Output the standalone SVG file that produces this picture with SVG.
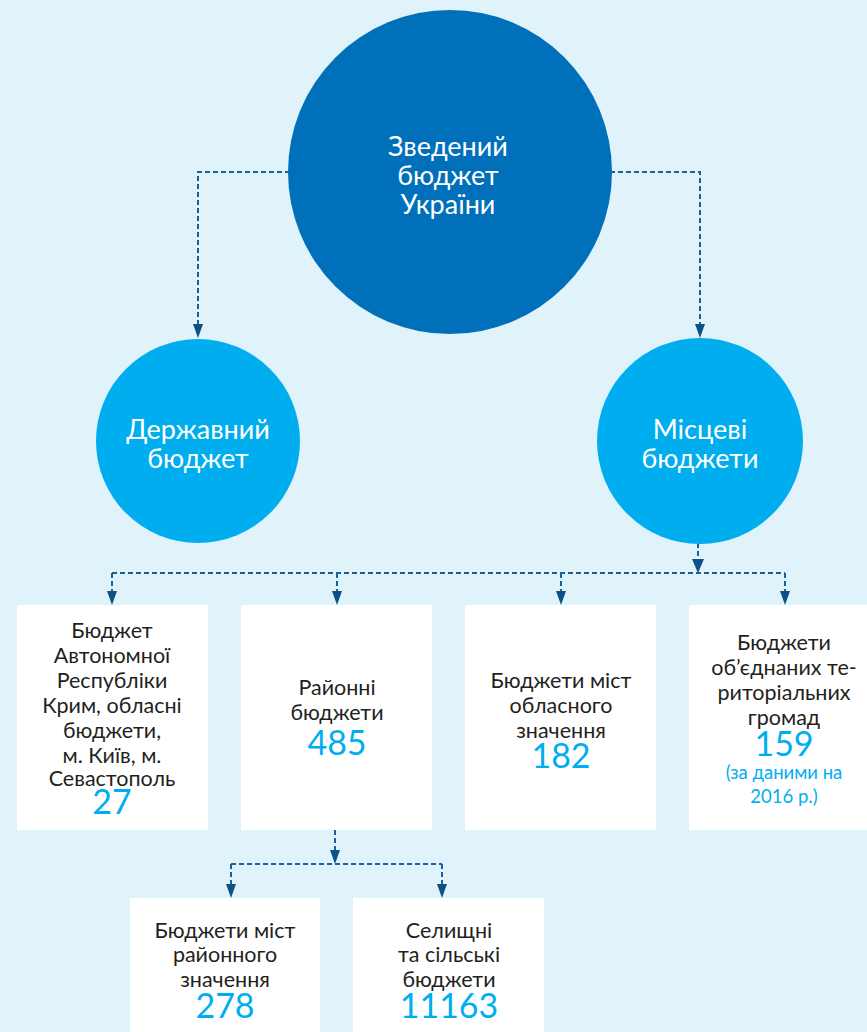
<svg xmlns="http://www.w3.org/2000/svg" width="867" height="1032" viewBox="0 0 867 1032">
<defs>
<style>
.c{fill:none;stroke:#1a6199;stroke-width:2;stroke-dasharray:5 3}
.ah{fill:#0b5288}
.ct{font-family:Lato,"Noto Sans",sans-serif;font-size:27px;fill:#ffffff;text-anchor:middle}
.bt{font-family:Lato,"Noto Sans",sans-serif;font-size:21.5px;fill:#231f20;text-anchor:middle}
.n{font-family:Lato,"Noto Sans",sans-serif;font-size:34px;fill:#00aeef;text-anchor:middle}
.s{font-family:Lato,"Noto Sans",sans-serif;font-size:18.5px;fill:#00aeef;text-anchor:middle}
.box{fill:#ffffff}
</style>
</defs>
<rect x="0" y="0" width="867" height="1032" fill="#e0f3fb"/>
<g id="connectors">
<path class="c" d="M290,172 H198 V324"/>
<path class="c" d="M610,172 H700 V324"/>
<path class="c" d="M698,543 V559"/>
<path class="ah" d="M692,559 L704,559 L698,573 Z"/>
<path class="c" d="M112,573 H785"/>
<path class="c" d="M112,573 V591"/>
<path class="c" d="M337,573 V591"/>
<path class="c" d="M561,573 V591"/>
<path class="c" d="M785,573 V591"/>
<path class="ah" d="M107,591 L117,591 L112,605 Z"/>
<path class="ah" d="M332,591 L342,591 L337,605 Z"/>
<path class="ah" d="M556,591 L566,591 L561,605 Z"/>
<path class="ah" d="M780,591 L790,591 L785,605 Z"/>
<path class="ah" d="M193,324 L203,324 L198,338 Z"/>
<path class="ah" d="M695,324 L705,324 L700,338 Z"/>
<path class="c" d="M335,830 V850"/>
<path class="ah" d="M330,850 L340,850 L335,864 Z"/>
<path class="c" d="M231,864 H442"/>
<path class="c" d="M231,864 V884"/>
<path class="c" d="M442,864 V884"/>
<path class="ah" d="M226,884 L236,884 L231,898 Z"/>
<path class="ah" d="M437,884 L447,884 L442,898 Z"/>
</g>
<g id="node-zvedenyi">
<circle cx="450" cy="172" r="162" fill="#0070bb"/>
<text class="ct" x="448" y="156">Зведений</text>
<text class="ct" x="448" y="185">бюджет</text>
<text class="ct" x="448" y="214">України</text>
</g>
<g id="node-derzhavnyi">
<circle cx="198" cy="441" r="102" fill="#00aeef"/>
<text class="ct" x="198" y="439">Державний</text>
<text class="ct" x="198" y="468">бюджет</text>
</g>
<g id="node-mistsevi">
<circle cx="700" cy="441" r="103" fill="#00aeef"/>
<text class="ct" x="700" y="439">Місцеві</text>
<text class="ct" x="700" y="468">бюджети</text>
</g>
<g id="node-crimea">
<rect class="box" x="17" y="605" width="191" height="225"/>
<text class="bt" x="112" y="638">Бюджет</text>
<text class="bt" x="112" y="663">Автономної</text>
<text class="bt" x="112" y="688">Республіки</text>
<text class="bt" x="112" y="713">Крим, обласні</text>
<text class="bt" x="112" y="738">бюджети,</text>
<text class="bt" x="112" y="763">м. Київ, м.</text>
<text class="bt" x="112" y="786">Севастополь</text>
<text class="n" x="112" y="814">27</text>
</g>
<g id="node-raionni">
<rect class="box" x="241" y="605" width="191" height="225"/>
<text class="bt" x="337" y="695">Районні</text>
<text class="bt" x="337" y="720">бюджети</text>
<text class="n" x="337" y="755">485</text>
</g>
<g id="node-oblasni-mista">
<rect class="box" x="465" y="605" width="191" height="225"/>
<text class="bt" x="561" y="688">Бюджети міст</text>
<text class="bt" x="561" y="713">обласного</text>
<text class="bt" x="561" y="738">значення</text>
<text class="n" x="561" y="768">182</text>
</g>
<g id="node-otg">
<rect class="box" x="689" y="605" width="191" height="225"/>
<text class="bt" x="784" y="650">Бюджети</text>
<text class="bt" x="784" y="675">об’єднаних те-</text>
<text class="bt" x="784" y="700">риторіальних</text>
<text class="bt" x="784" y="725">громад</text>
<text class="n" x="784" y="756">159</text>
<text class="s" x="784" y="779">(за даними на</text>
<text class="s" x="784" y="803">2016 р.)</text>
</g>
<g id="node-raionni-mista">
<rect class="box" x="130" y="898" width="190" height="140"/>
<text class="bt" x="225" y="938">Бюджети міст</text>
<text class="bt" x="225" y="962">районного</text>
<text class="bt" x="225" y="987">значення</text>
<text class="n" x="225" y="1018">278</text>
</g>
<g id="node-selyshchni">
<rect class="box" x="353" y="898" width="191" height="140"/>
<text class="bt" x="449" y="938">Селищні</text>
<text class="bt" x="449" y="962">та сільські</text>
<text class="bt" x="449" y="987">бюджети</text>
<text class="n" x="449" y="1018">11163</text>
</g>
</svg>
